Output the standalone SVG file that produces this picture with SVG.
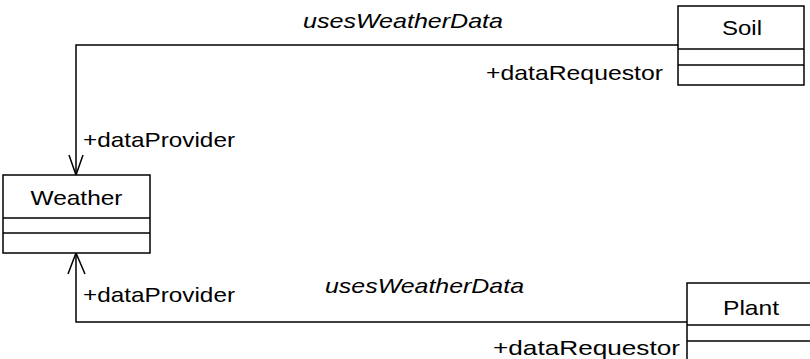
<svg xmlns="http://www.w3.org/2000/svg" width="810" height="359" viewBox="0 0 810 359">
<style>
.box{fill:#fff;stroke:#000;stroke-width:1.5}
.ln{fill:none;stroke:#000;stroke-width:1.5}
.t{font-family:"Liberation Sans",Arial,sans-serif;font-size:21px;fill:#000}
.i{font-style:italic}
.c{text-anchor:middle}
</style>
<rect width="810" height="359" fill="#fff"/>
<g id="connectors">
<polyline class="ln" points="678,45 76,45 76,175"/>
<polyline class="ln" points="69,155 76,175 83,155"/>
<polyline class="ln" points="687,322 76,322 76,253"/>
<polyline class="ln" points="68,274 76,253 85,274"/>
<text class="t i" x="303" y="28" textLength="200" lengthAdjust="spacingAndGlyphs">usesWeatherData</text>
<text class="t" x="486" y="80" textLength="177" lengthAdjust="spacingAndGlyphs">+dataRequestor</text>
<text class="t" x="83" y="147" textLength="152" lengthAdjust="spacingAndGlyphs">+dataProvider</text>
<text class="t" x="83" y="302" textLength="152" lengthAdjust="spacingAndGlyphs">+dataProvider</text>
<text class="t i" x="325" y="293" textLength="199" lengthAdjust="spacingAndGlyphs">usesWeatherData</text>
<text class="t" x="493" y="355" textLength="187" lengthAdjust="spacingAndGlyphs">+dataRequestor</text>
</g>
<g id="Weather">
<rect class="box" x="3" y="175" width="147" height="78"/>
<line class="ln" x1="3" y1="218" x2="150" y2="218"/>
<line class="ln" x1="3" y1="233" x2="150" y2="233"/>
<text class="t c" x="76.5" y="205" textLength="92" lengthAdjust="spacingAndGlyphs">Weather</text>
</g>
<g id="Soil">
<rect class="box" x="678" y="6" width="126" height="79"/>
<line class="ln" x1="678" y1="49" x2="804" y2="49"/>
<line class="ln" x1="678" y1="65" x2="804" y2="65"/>
<text class="t c" x="742" y="35" textLength="40" lengthAdjust="spacingAndGlyphs">Soil</text>
</g>
<g id="Plant">
<rect class="box" x="687" y="283" width="130" height="90"/>
<line class="ln" x1="687" y1="325" x2="817" y2="325"/>
<line class="ln" x1="687" y1="341" x2="817" y2="341"/>
<text class="t c" x="751" y="315" textLength="56" lengthAdjust="spacingAndGlyphs">Plant</text>
</g>
</svg>
